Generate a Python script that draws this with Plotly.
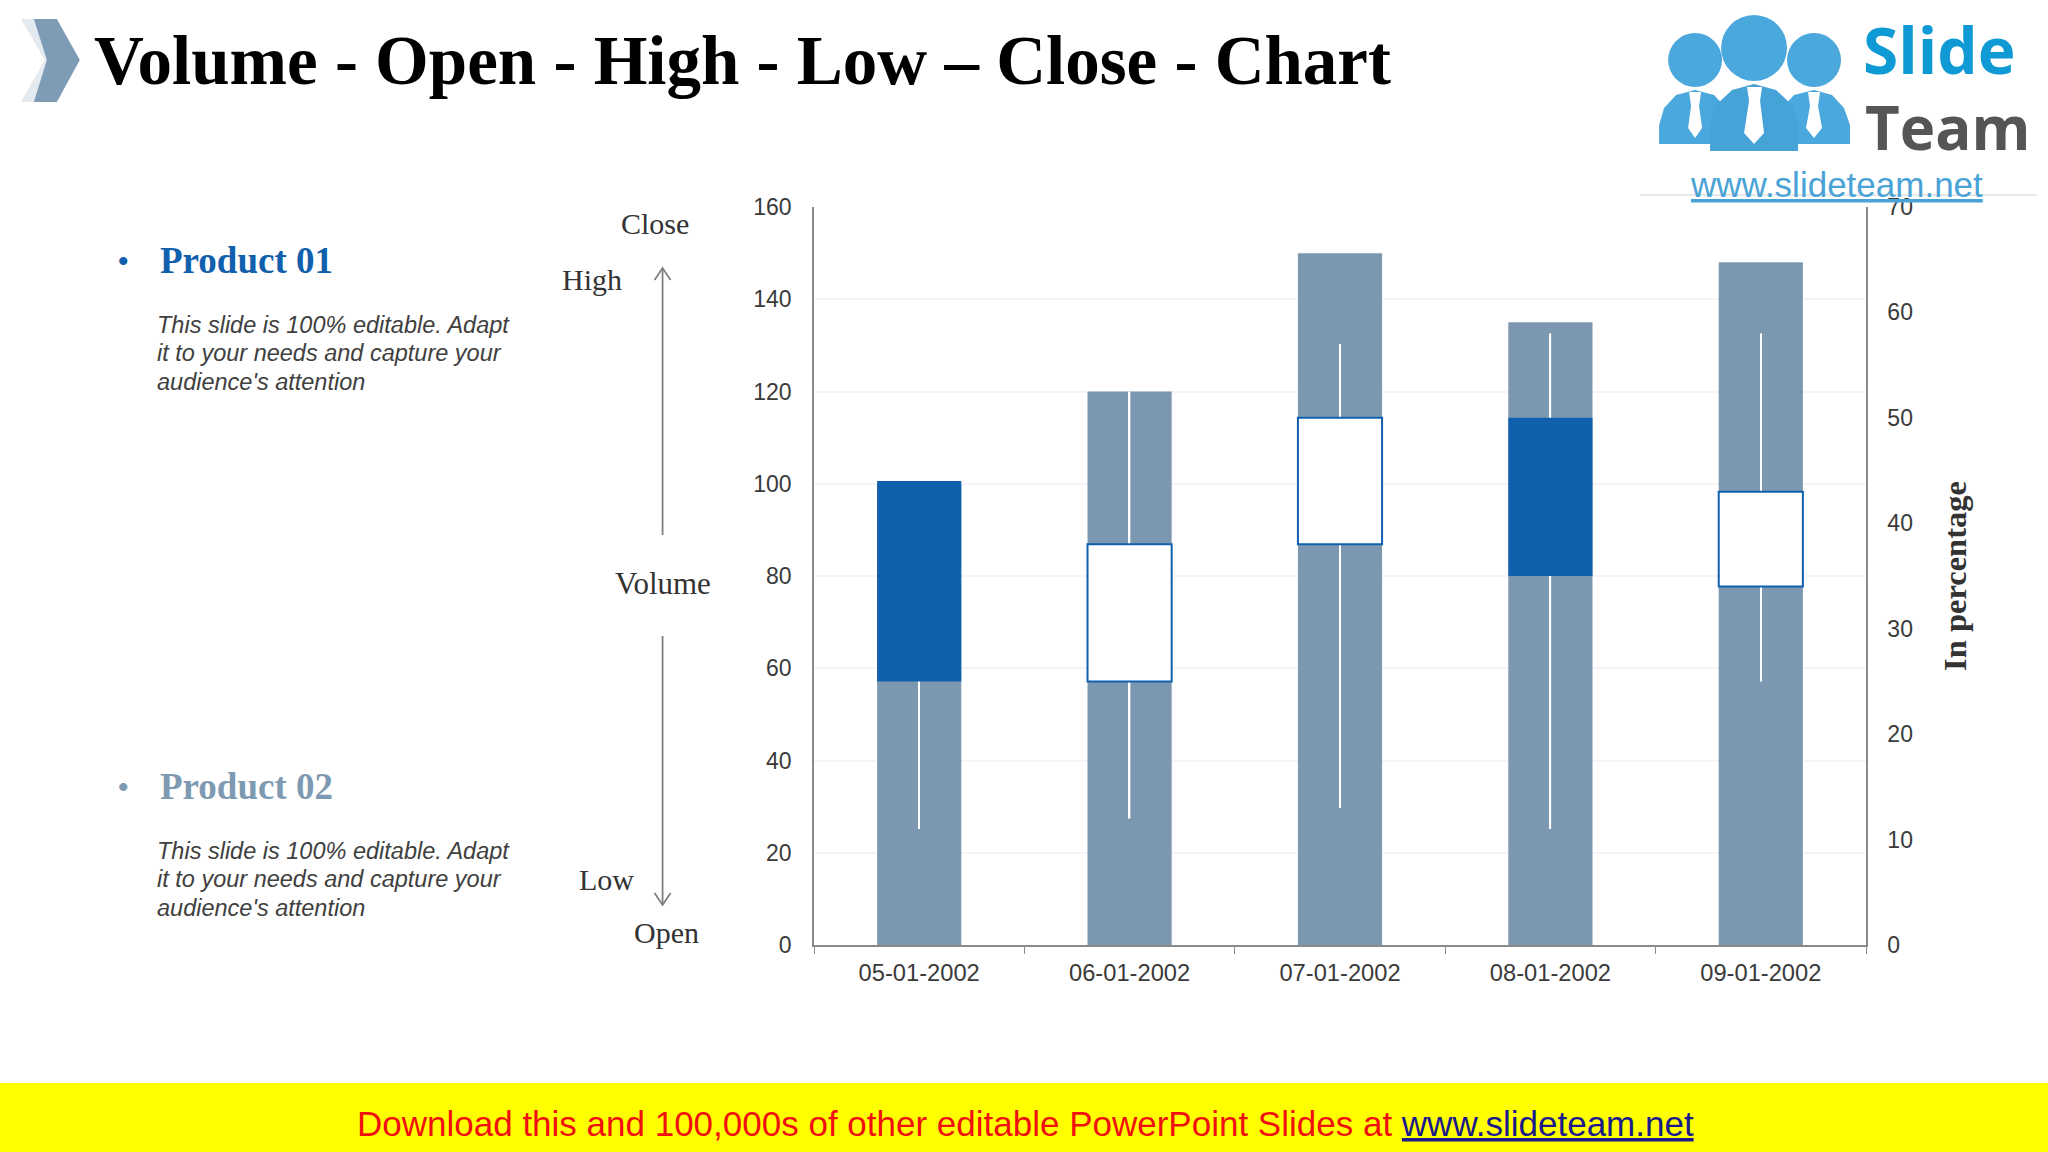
import plotly.graph_objects as go

# ---- data ----
dates = ["05-01-2002", "06-01-2002", "07-01-2002", "08-01-2002", "09-01-2002"]
volume = [100, 120, 150, 135, 148]
open_ = [44, 25, 38, 50, 34]
high = [44, 52.5, 57, 58, 58]
low = [11, 12, 13, 11, 25]
close = [25, 38, 50, 35, 43]
left_ticks = [0, 20, 40, 60, 80, 100, 120, 140, 160]
right_ticks = [0, 10, 20, 30, 40, 50, 60, 70]

title_text = "Volume - Open - High - Low – Close - Chart"
body_lines = ["This slide is 100% editable. Adapt", "it to your needs and capture your", "audience's attention"]

W, H = 2048, 1152
L, R, T, B = 813.5, 1866, 207, 945
SERIF = "Liberation Serif"
SANS = "Liberation Sans"
BLUE = "#1060ad"
STEEL = "#7c98b0"


def X(px):
    return (px - L) / (R - L)


def Y(py):
    return (B - py) / (B - T)


fig = go.Figure()
fig.add_trace(go.Bar(x=dates, y=volume, width=0.4, marker=dict(color=STEEL, line=dict(width=0)), yaxis="y", showlegend=False))
# wicks: white hairlines
fig.add_trace(go.Bar(x=dates, base=low, y=[h - l for h, l in zip(high, low)], width=0.007,
                     marker=dict(color="white", line=dict(width=0)), yaxis="y2", showlegend=False))
# up / down bars
body_lo = [min(a, b) for a, b in zip(open_, close)]
body_h = [abs(a - b) for a, b in zip(open_, close)]
fig.add_trace(go.Bar(x=dates, base=body_lo, y=body_h, width=0.4, yaxis="y2", showlegend=False,
                     marker=dict(color=[BLUE if c < o else "white" for o, c in zip(open_, close)],
                                 line=dict(color=BLUE, width=[0 if c < o else 2 for o, c in zip(open_, close)]))))

shapes = []


def paper_path(d, fill=None, line=None, lw=0):
    shapes.append(dict(type="path", xref="paper", yref="paper", path=d, fillcolor=fill,
                       line=dict(color=line, width=lw), layer="above"))


def poly(pts, close_=True):
    s = "M " + " L ".join(f"{X(a):.5f} {Y(b):.5f}" for a, b in pts)
    return s + (" Z" if close_ else "")


def rect(x0, y0, x1, y1, fill):
    shapes.append(dict(type="rect", xref="paper", yref="paper", x0=X(x0), x1=X(x1), y0=Y(y0), y1=Y(y1),
                       fillcolor=fill, line=dict(width=0), layer="above"))


def circle(cx, cy, r, fill):
    shapes.append(dict(type="circle", xref="paper", yref="paper", x0=X(cx - r), x1=X(cx + r), y0=Y(cy + r), y1=Y(cy - r),
                       fillcolor=fill, line=dict(width=0), layer="above"))


# footer band
rect(-5, 1083, W + 5, H + 5, "#ffff00")
# chevrons
paper_path(poly([(20, 19), (44, 19), (67, 60), (44, 102), (20, 102), (44, 60)]), "#e3eaf0")
paper_path(poly([(33, 19), (56, 19), (79, 60), (56, 102), (33, 102), (46, 60)]), "#7f9cb6")
# arrows
GR = "#7f7f7f"
paper_path(poly([(662, 535), (662, 268)], False), None, GR, 1.8)
paper_path(poly([(654, 280), (662, 268), (670, 280)], False), None, GR, 1.8)
paper_path(poly([(662, 636), (662, 905)], False), None, GR, 1.8)
paper_path(poly([(654, 893), (662, 905), (670, 893)], False), None, GR, 1.8)

# logo
LOGO = "#4aa8dc"
for cx, cy, r in [(1695, 60, 27), (1814, 60, 27), (1754, 48, 33)]:
    circle(cx, cy, r, LOGO)
paper_path(poly([(1659, 144), (1659, 125), (1664, 108), (1676, 95), (1695, 90), (1714, 95), (1726, 108), (1732, 144)]), LOGO)
paper_path(poly([(1776, 144), (1782, 108), (1794, 95), (1814, 90), (1832, 95), (1844, 108), (1850, 125), (1850, 144)]), LOGO)
paper_path(poly([(1710, 151), (1710, 125), (1716, 105), (1732, 90), (1754, 84), (1776, 90), (1792, 105), (1798, 125), (1798, 151)]), "#45a3d8")
paper_path(poly([(1689, 92), (1701, 92), (1699, 106), (1702, 128), (1695, 138), (1688, 128), (1691, 106)]), "white")
paper_path(poly([(1747, 87), (1762, 87), (1760, 101), (1764, 133), (1754, 144), (1744, 133), (1749, 101)]), "white")
paper_path(poly([(1808, 92), (1820, 92), (1818, 106), (1822, 128), (1814, 138), (1806, 128), (1810, 106)]), "white")
paper_path(poly([(1640, 195), (2037, 195)], False), None, "#d0d0d0", 1)

ann = []


def text(t, px, py, size, color, font=SERIF, anchor="left", valign="middle"):
    ann.append(dict(text=t, x=X(px), y=Y(py), xref="paper", yref="paper", showarrow=False, xanchor=anchor,
                    yanchor=valign, align=anchor if anchor != "center" else "center",
                    font=dict(family=font, size=size, color=color)))


text(f"<b>{title_text}</b>", 91, 61, 69, "#000000")
text("<b>•</b>", 115, 261, 30, BLUE)
text("<b>Product 01</b>", 157, 261, 37, BLUE)
text("<b>•</b>", 115, 786, 30, "#7e9ab3")
text("<b>Product 02</b>", 157, 786, 37, "#7e9ab3")
for base_y in (324.5, 850.5):
    for i, line in enumerate(body_lines):
        text(f"<i>{line}</i>", 154, base_y + i * 28.5, 23.5, "#404040", SANS)

text("Close", 654, 223, 30, "#333333", anchor="center")
text("High", 591, 279, 30, "#333333", anchor="center")
text("Volume", 662, 583, 31, "#333333", anchor="center")
text("Low", 606, 879, 30, "#333333", anchor="center")
text("Open", 666, 932, 30, "#333333", anchor="center")

text('<span style="color:#f01010">Download this and 100,000s of other editable PowerPoint Slides at </span>'
     '<span style="color:#1a1a8c"><u>www.slideteam.net</u></span>', 354, 1123, 35, "#f01010", SANS)

text("<b>Slide</b>", 1861, 49, 64, "#0f9ad6", "Open Sans")
text("<b>Team</b>", 1863, 127, 60, "#555555", "Open Sans")
text("<u>www.slideteam.net</u>", 1688, 184, 35, "#4aa3d6", SANS)

GRID = "#f6f4f8"
TICK = dict(family=SANS, size=23, color="#3a3a3a")
AX = "#8a8a8a"
fig.update_layout(
    width=W, height=H, autosize=False,
    margin=dict(l=L, r=W - R, t=T, b=H - B, pad=0),
    paper_bgcolor="white", plot_bgcolor="white",
    barmode="overlay", showlegend=False,
    shapes=shapes, annotations=ann,
    xaxis=dict(type="category", categoryorder="array", categoryarray=dates, tickson="boundaries",
               ticks="outside", ticklen=7, tickcolor=AX, showline=True, linecolor=AX, linewidth=2,
               showgrid=False, tickfont=dict(family=SANS, size=23.7, color="#3a3a3a"), ticklabelstandoff=6,
               zeroline=False),
    yaxis=dict(range=[0, 160], tickvals=left_ticks, showline=True, linecolor=AX, linewidth=1.5,
               gridcolor=GRID, gridwidth=1.5, ticks="", tickfont=TICK, ticklabelstandoff=16, zeroline=False),
    yaxis2=dict(range=[0, 70], tickvals=right_ticks, overlaying="y", side="right", showline=True,
                linecolor=AX, linewidth=1.5, showgrid=False, ticks="", tickfont=TICK, ticklabelstandoff=15,
                zeroline=False,
                title=dict(text="<b>In percentage</b>", font=dict(family=SERIF, size=32.5, color="#333333"), standoff=31)),
)

fig.write_html("out.html", post_script="document.body.style.margin='0';", config=dict(displayModeBar=False))
